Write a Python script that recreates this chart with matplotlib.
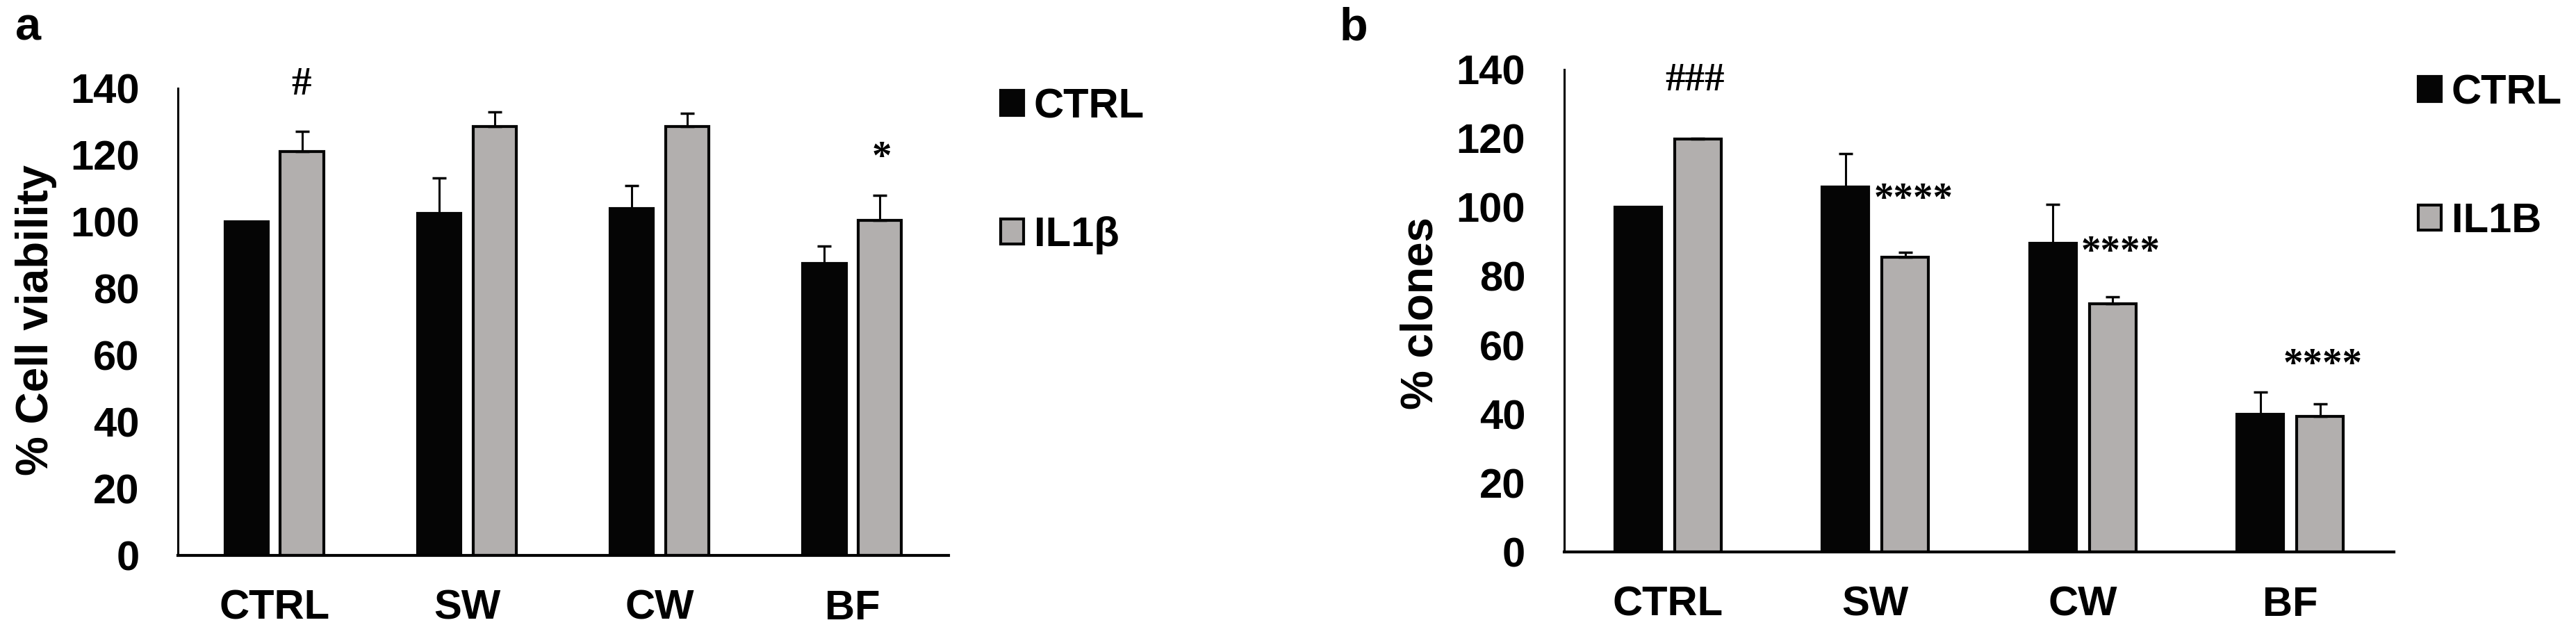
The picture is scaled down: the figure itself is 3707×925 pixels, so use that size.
import numpy as np
import matplotlib.pyplot as plt
from matplotlib.patches import Patch

# données
groupes = ['CTRL', 'SW', 'CW', 'BF']

viab_ctrl = [100, 102.6, 103.9, 87.6]
viab_ctrl_err = [0, 10.5, 7, 5.2]
viab_il1 = [121, 128.5, 128.5, 100.4]
viab_il1_err = [6, 4.5, 4, 7.6]

clones_ctrl = [100, 106, 89.6, 40]
clones_ctrl_err = [0, 9.6, 11.3, 6.4]
clones_il1 = [119.8, 85.6, 72, 39.4]
clones_il1_err = [0.3, 1.4, 2.1, 3.6]

# annotations : (texte, x, y de la ligne de base)
annot_a = [('#', 0.14, 138.1), ('*', 3.154, 116.1)]
annot_b = [('###', 0.13, 134.0), ('****', 1.185, 99.2), ('****', 2.183, 83.9), ('****', 3.158, 51.3)]

noir = '#050505'
gris = '#b2afae'

plt.rcParams['font.family'] = ['Liberation Sans', 'DejaVu Sans']
plt.rcParams['font.weight'] = 'bold'
fs = 43

fig = plt.figure(figsize=(37.07, 9.25), dpi=100)
ax1 = fig.add_axes([0.0691, 0.1362, 0.2991, 0.7265])
ax2 = fig.add_axes([0.6072, 0.1416, 0.3221, 0.7503])

def panneau(ax, v1, e1, v2, e2, annots):
    x = np.arange(len(groupes))
    w = 0.225
    d = 0.144
    ax.bar(x - d, v1, w, color=noir, edgecolor=noir, linewidth=3)
    ax.bar(x + d, v2, w, color=gris, edgecolor=noir, linewidth=3)
    z = np.zeros(len(groupes))
    ax.errorbar(x - d, v1, yerr=[z, e1], fmt='none', ecolor=noir,
                elinewidth=2.2, capsize=7.5, capthick=2.5)
    ax.errorbar(x + d, v2, yerr=[z, e2], fmt='none', ecolor=noir,
                elinewidth=2.2, capsize=7.5, capthick=2.5)
    ax.set_xlim(-0.5, 3.5)
    ax.set_ylim(0, 140)
    ax.set_yticks(np.arange(0, 141, 20))
    ax.set_xticks(x)
    ax.set_xticklabels(groupes)
    ax.tick_params(axis='both', length=0, labelsize=fs)
    ax.tick_params(axis='y', pad=40)
    ax.tick_params(axis='x', pad=35)
    for s in ['top', 'right']:
        ax.spines[s].set_visible(False)
    ax.spines['left'].set_linewidth(2.2)
    ax.spines['bottom'].set_linewidth(3)
    for t, xa, ya in annots:
        ax.text(xa, ya, t, ha='center', va='baseline', fontsize=41,
                family='Liberation Serif', fontweight='bold', clip_on=False)

panneau(ax1, viab_ctrl, viab_ctrl_err, viab_il1, viab_il1_err, annot_a)
panneau(ax2, clones_ctrl, clones_ctrl_err, clones_il1, clones_il1_err, annot_b)

def legende(x0, y0, lab2):
    h = [Patch(facecolor=noir, edgecolor=noir, linewidth=3),
         Patch(facecolor=gris, edgecolor=noir, linewidth=3)]
    fig.legend(h, ['CTRL', lab2], loc='upper left', bbox_to_anchor=(x0, y0),
               frameon=False, fontsize=fs, handlelength=0.55, handleheight=0.55,
               handletextpad=0.25, labelspacing=2.18, borderpad=0, borderaxespad=0)

legende(1440 / 3707, 1 - 126 / 925, 'IL1β')
legende(3480 / 3707, 1 - 106 / 925, 'IL1B')

fig.text(52 / 3707, 1 - 460 / 925, '% Cell viability', rotation=90, ha='center',
         va='center', fontsize=46)
fig.text(2045 / 3707, 1 - 451 / 925, '% clones', rotation=90, ha='center',
         va='center', fontsize=46)

fig.text(22 / 3707, 1 - 58 / 925, 'a', ha='left', va='baseline', fontsize=48)
fig.text(1928 / 3707, 1 - 58 / 925, 'b', ha='left', va='baseline', fontsize=48)

fig.savefig('out.png', dpi=100)
